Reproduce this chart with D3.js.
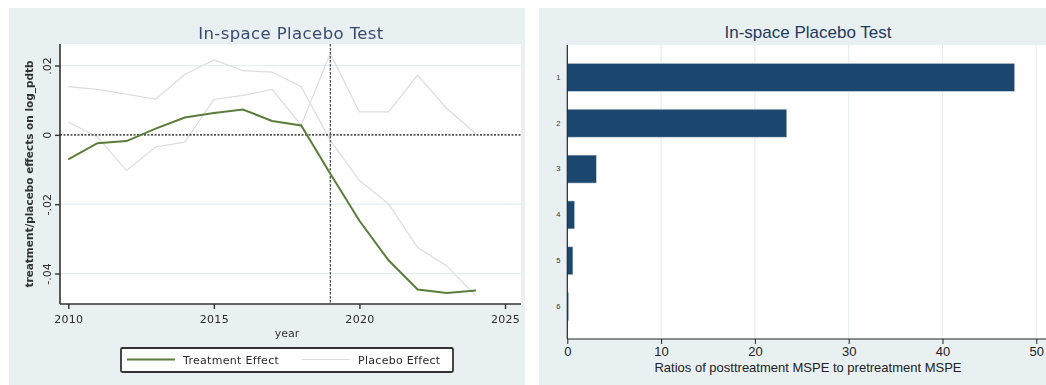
<!DOCTYPE html>
<html>
<head>
<meta charset="utf-8">
<script src="https://cdn.jsdelivr.net/npm/d3@7"></script>
<style>
  html, body { margin: 0; padding: 0; background: #ffffff; }
  svg { display: block; }
</style>
</head>
<body>
<svg id="chart" width="1046" height="385"></svg>
<script>
// ---- Data -------------------------------------------------------------
const years = [2010, 2011, 2012, 2013, 2014, 2015, 2016, 2017, 2018, 2019, 2020, 2021, 2022, 2023, 2024];
const treatmentEffect = [-0.0071, -0.0024, -0.0018, 0.0018, 0.0050, 0.0063, 0.0073, 0.0040, 0.0027,
                         -0.0112, -0.0248, -0.0362, -0.0446, -0.0456, -0.0449];
const placeboUnitA = [0.0139, 0.0131, 0.0117, 0.0103, 0.0174, 0.0216, 0.0185, 0.0181, 0.0139,
                      -0.0016, -0.0132, -0.0199, -0.0325, -0.0378, -0.0465];
const placeboUnitB = [0.0037, -0.0006, -0.0103, -0.0035, -0.0021, 0.0102, 0.0114, 0.0131, 0.0028,
                      0.0235, 0.0066, 0.0066, 0.0172, 0.0076, 0.0003];
const treatedYear = 2019;
const yearTicks = [2010, 2015, 2020, 2025];
const effectTicks = [-0.04, -0.02, 0, 0.02];
const effectTickLabels = ["-.04", "-.02", "0", ".02"];

const ranks = ["1", "2", "3", "4", "5", "6"];
const mspeRatios = [47.7, 23.4, 3.1, 0.78, 0.6, 0.15];
const ratioTicks = [0, 10, 20, 30, 40, 50];

// ---- Shared --------------------------------------------------------------
const svg = d3.select("#chart");
const panelBg = "#e9f0f2";
const gridColor = "#e6eef1";

const defs = svg.append("defs");
defs.append("filter").attr("id", "soft")
  .attr("x", "-5%").attr("y", "-5%").attr("width", "110%").attr("height", "110%")
  .append("feGaussianBlur").attr("stdDeviation", 0.5);

// ---- Left panel: effect paths -------------------------------------------
const left = svg.append("g").attr("filter", "url(#soft)");
left.append("rect").attr("x", 9).attr("y", 8).attr("width", 516).attr("height", 377).attr("fill", panelBg);

const L = { x0: 60, x1: 521, y0: 44, y1: 304 };
left.append("rect").attr("x", L.x0).attr("y", L.y0)
  .attr("width", L.x1 - L.x0).attr("height", L.y1 - L.y0).attr("fill", "#ffffff");

const x = d3.scaleLinear().domain([2010, 2025]).range([68.3, 505]);
const y = d3.scaleLinear().domain([-0.04, 0.02]).range([273.5, 65.5]);

// horizontal grid
left.append("g").selectAll("line").data(effectTicks.filter(d => d !== 0)).join("line")
  .attr("x1", L.x0).attr("x2", L.x1)
  .attr("y1", d => y(d)).attr("y2", d => y(d))
  .attr("stroke", gridColor).attr("stroke-width", 1.2);

const line = d3.line().x((d, i) => x(years[i])).y(d => y(d));

// placebo units
[placeboUnitA, placeboUnitB].forEach(s => {
  left.append("path").datum(s).attr("d", line)
    .attr("fill", "none").attr("stroke", "#dcdcdc").attr("stroke-width", 1.2);
});

// reference lines
left.append("line")
  .attr("x1", L.x0).attr("x2", L.x1).attr("y1", y(0)).attr("y2", y(0))
  .attr("stroke", "#555").attr("stroke-width", 1.7).attr("stroke-dasharray", "2,1.5");
left.append("line")
  .attr("x1", x(treatedYear)).attr("x2", x(treatedYear)).attr("y1", L.y0).attr("y2", L.y1)
  .attr("stroke", "#444").attr("stroke-width", 1.2).attr("stroke-dasharray", "2.5,1.5");

// treated unit
left.append("path").datum(treatmentEffect).attr("d", line)
  .attr("fill", "none").attr("stroke", "#5a7d3a").attr("stroke-width", 2);

// axes
const xAxisL = d3.axisBottom(x).tickValues(yearTicks).tickFormat(d3.format("d")).tickSize(5).tickSizeOuter(0);
const gxL = left.append("g").attr("transform", `translate(0,${L.y1})`).call(xAxisL);
gxL.select(".domain").attr("d", `M${L.x0},0H${L.x1}`).attr("stroke", "#333").attr("stroke-width", 1.6);
gxL.selectAll(".tick line").attr("stroke", "#333").attr("stroke-width", 1.4);
gxL.selectAll(".tick text").attr("fill", "#2b2b2b").attr("font-family", "DejaVu Sans")
  .attr("font-size", 11).attr("dy", "1em").attr("letter-spacing", 0.3);

const yAxisL = d3.axisLeft(y).tickValues(effectTicks).tickFormat((d, i) => effectTickLabels[i]).tickSize(5).tickSizeOuter(0);
const gyL = left.append("g").attr("transform", `translate(${L.x0},0)`).call(yAxisL);
gyL.select(".domain").attr("d", `M0,${L.y0}V${L.y1}`).attr("stroke", "#333").attr("stroke-width", 1.6);
gyL.selectAll(".tick line").attr("stroke", "#333").attr("stroke-width", 1.4);
// rotated tick labels, reading upward
gyL.selectAll(".tick text")
  .attr("fill", "#2b2b2b").attr("font-family", "DejaVu Sans").attr("font-size", 11)
  .attr("text-anchor", "middle").attr("dy", "0.35em")
  .attr("x", 0).attr("y", 0)
  .attr("transform", "translate(-13,0) rotate(-90)");

left.append("text").attr("transform", `translate(30,174) rotate(-90)`)
  .attr("text-anchor", "middle").attr("dominant-baseline", "middle")
  .attr("font-family", "DejaVu Sans").attr("font-size", 10.5).attr("font-weight", "bold").attr("fill", "#333")
  .text("treatment/placebo effects on log_pdtb");

left.append("text").attr("x", 287).attr("y", 337)
  .attr("text-anchor", "middle").attr("font-family", "DejaVu Sans").attr("font-size", 11).attr("fill", "#333")
  .text("year");

left.append("text").attr("x", 291).attr("y", 39)
  .attr("text-anchor", "middle").attr("font-family", "DejaVu Sans").attr("font-size", 16.5)
  .attr("letter-spacing", 0.4).attr("fill", "#3b4870")
  .text("In-space Placebo Test");

// legend
const lg = left.append("g");
lg.append("rect").attr("x", 121).attr("y", 348).attr("width", 332).attr("height", 24).attr("rx", 1.5)
  .attr("fill", "#ffffff").attr("stroke", "#333").attr("stroke-width", 1.8);
const legendItems = [
  { label: "Treatment Effect", color: "#5a7d3a", w: 2, x: 127 },
  { label: "Placebo Effect", color: "#dcdcdc", w: 1.2, x: 302 }
];
legendItems.forEach(it => {
  lg.append("line").attr("x1", it.x).attr("x2", it.x + 48).attr("y1", 359.5).attr("y2", 359.5)
    .attr("stroke", it.color).attr("stroke-width", it.w);
  lg.append("text").attr("x", it.x + 56).attr("y", 363.5)
    .attr("font-family", "DejaVu Sans").attr("font-size", 11).attr("letter-spacing", 0.3)
    .attr("fill", "#2b2b2b").text(it.label);
});

// ---- Right panel: MSPE ratio bars ---------------------------------------
const right = svg.append("g");
right.append("rect").attr("x", 539).attr("y", 8).attr("width", 507).attr("height", 377).attr("fill", panelBg);

const R = { x0: 567.3, x1: 1046, y0: 45, y1: 339 };
right.append("rect").attr("x", R.x0).attr("y", R.y0)
  .attr("width", R.x1 - R.x0).attr("height", R.y1 - R.y0).attr("fill", "#ffffff");

const xr = d3.scaleLinear().domain([0, 50]).range([567.3, 1036.3]);
const yr = d3.scaleBand().domain(ranks).range([R.y0, R.y1]).paddingInner(0.39).paddingOuter(0.4);

right.append("g").selectAll("line").data(ratioTicks.filter(d => d > 0)).join("line")
  .attr("x1", d => xr(d)).attr("x2", d => xr(d)).attr("y1", R.y0).attr("y2", R.y1)
  .attr("stroke", gridColor).attr("stroke-width", 1.2);

right.append("g").selectAll("rect").data(mspeRatios).join("rect")
  .attr("x", xr(0)).attr("y", (d, i) => yr(ranks[i]))
  .attr("width", d => xr(d) - xr(0)).attr("height", yr.bandwidth())
  .attr("fill", "#1b466e").attr("stroke", "#c9d6e0").attr("stroke-width", 0.6);

const xAxisR = d3.axisBottom(xr).tickValues(ratioTicks).tickSize(5).tickSizeOuter(0);
const gxR = right.append("g").attr("transform", `translate(0,${R.y1})`).call(xAxisR);
gxR.select(".domain").attr("d", `M${R.x0},0H${R.x1}`).attr("stroke", "#222").attr("stroke-width", 1.2);
gxR.selectAll(".tick line").attr("stroke", "#222").attr("stroke-width", 1);
gxR.selectAll(".tick text").attr("fill", "#222").attr("font-family", "Liberation Sans")
  .attr("font-size", 13).attr("dy", "0.85em").attr("y", 6);

const yAxisR = d3.axisLeft(yr).tickSize(0).tickSizeOuter(0).tickPadding(7);
const gyR = right.append("g").attr("transform", `translate(${R.x0},0)`).call(yAxisR);
gyR.select(".domain").attr("d", `M0,${R.y0}V${R.y1}`).attr("stroke", "#222").attr("stroke-width", 1.2);
gyR.selectAll(".tick text").attr("fill", "#333").attr("font-family", "Liberation Sans").attr("font-size", 7.5);

right.append("text").attr("x", 808).attr("y", 38)
  .attr("text-anchor", "middle").attr("font-family", "Liberation Sans").attr("font-size", 17).attr("fill", "#1e3a5c")
  .text("In-space Placebo Test");

right.append("text").attr("x", 808).attr("y", 372)
  .attr("text-anchor", "middle").attr("font-family", "Liberation Sans").attr("font-size", 13).attr("fill", "#222")
  .text("Ratios of posttreatment MSPE to pretreatment MSPE");
</script>
</body>
</html>
